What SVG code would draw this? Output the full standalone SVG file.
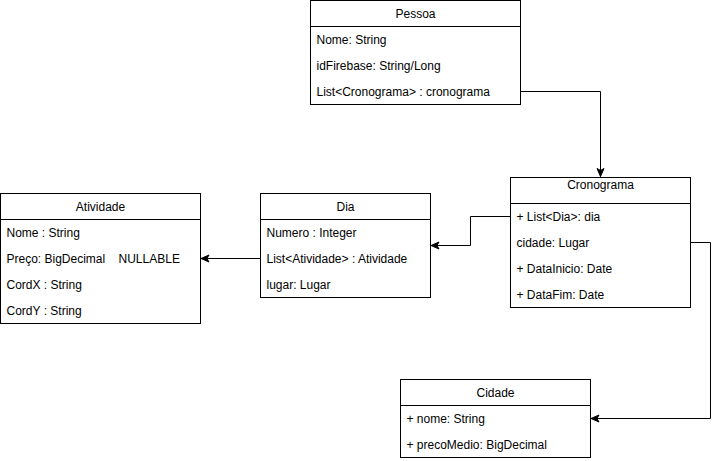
<svg xmlns="http://www.w3.org/2000/svg" width="719" height="461" viewBox="0 0 719 461">
<defs>
<style>
.box{fill:#fff;stroke:#000;stroke-width:1}
.t{font-family:"Liberation Sans",Arial,sans-serif;font-size:12px;fill:#000}
.c{text-anchor:middle}
.edge{fill:none;stroke:#000;stroke-width:1}
</style>
<marker id="arr" markerUnits="userSpaceOnUse" markerWidth="10" markerHeight="10" viewBox="0 0 10 10" refX="9" refY="5" orient="auto">
<path d="M1,1.5 L9,5 L1,8.5 L3,5 Z" fill="#000" stroke="#000" stroke-width="1"/>
</marker>
</defs>
<rect width="719" height="461" fill="#fff"/>
<g id="connectors">
<path class="edge" d="M520.5,91.5 H600.5 V176.5" marker-end="url(#arr)"/>
<path class="edge" d="M510.5,216.5 H470.5 V245.5 H431" marker-end="url(#arr)"/>
<path class="edge" d="M260.5,258.5 H201" marker-end="url(#arr)"/>
<path class="edge" d="M690.5,242.5 H710.5 V418.5 H591" marker-end="url(#arr)"/>
</g>
<g id="pessoa">
<rect class="box" x="310.5" y="0.5" width="210" height="104"/>
<line class="edge" x1="310.5" y1="26.5" x2="520.5" y2="26.5"/>
<text class="t c" x="415.5" y="18">Pessoa</text>
<text class="t" x="316.5" y="44">Nome: String</text>
<text class="t" x="316.5" y="70">idFirebase: String/Long</text>
<text class="t" x="316.5" y="96">List&lt;Cronograma&gt; : cronograma</text>
</g>
<g id="cronograma">
<rect class="box" x="510.5" y="177.5" width="180" height="130"/>
<line class="edge" x1="510.5" y1="203.5" x2="690.5" y2="203.5"/>
<text class="t c" x="600.5" y="189">Cronograma</text>
<text class="t" x="516.5" y="221">+ List&lt;Dia&gt;: dia</text>
<text class="t" x="516.5" y="247">cidade: Lugar</text>
<text class="t" x="516.5" y="273">+ DataInicio: Date</text>
<text class="t" x="516.5" y="299">+ DataFim: Date</text>
</g>
<g id="dia">
<rect class="box" x="260.5" y="193.5" width="170" height="104"/>
<line class="edge" x1="260.5" y1="219.5" x2="430.5" y2="219.5"/>
<text class="t c" x="345.5" y="211">Dia</text>
<text class="t" x="266.5" y="237">Numero : Integer</text>
<text class="t" x="266.5" y="263">List&lt;Atividade&gt; : Atividade</text>
<text class="t" x="266.5" y="289">lugar: Lugar</text>
</g>
<g id="atividade">
<rect class="box" x="0.5" y="193.5" width="200" height="130"/>
<line class="edge" x1="0.5" y1="219.5" x2="200.5" y2="219.5"/>
<text class="t c" x="100.5" y="211">Atividade</text>
<text class="t" x="6.5" y="237">Nome : String</text>
<text class="t" x="6.5" y="263" xml:space="preserve">Preço: BigDecimal    NULLABLE</text>
<text class="t" x="6.5" y="289">CordX : String</text>
<text class="t" x="6.5" y="315">CordY : String</text>
</g>
<g id="cidade">
<rect class="box" x="400.5" y="379.5" width="190" height="78"/>
<line class="edge" x1="400.5" y1="405.5" x2="590.5" y2="405.5"/>
<text class="t c" x="495.5" y="397">Cidade</text>
<text class="t" x="406.5" y="423">+ nome: String</text>
<text class="t" x="406.5" y="449">+ precoMedio: BigDecimal</text>
</g>
</svg>
